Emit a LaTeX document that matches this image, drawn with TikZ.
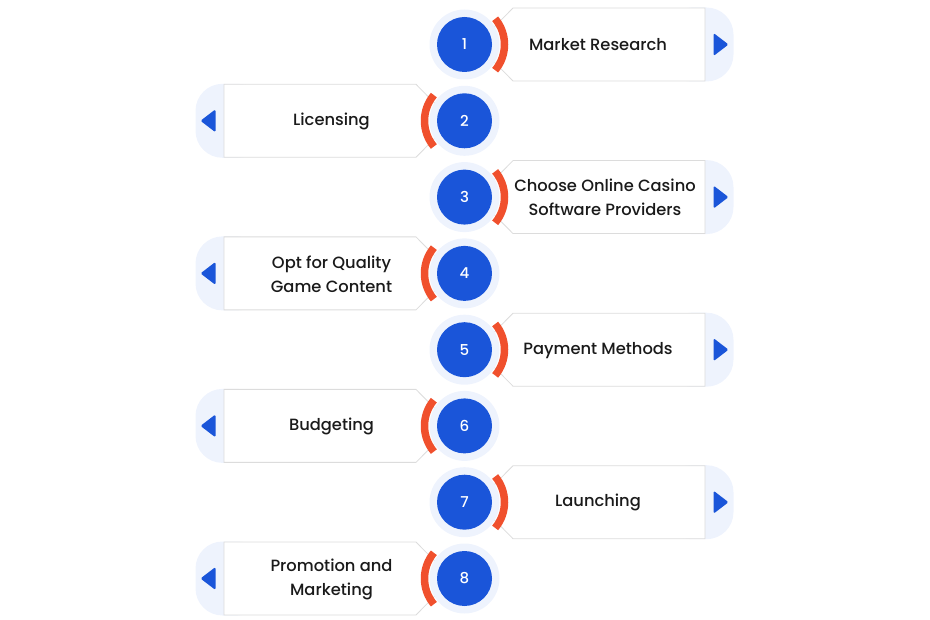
\documentclass[tikz,border=0pt]{standalone}
\usepackage{fontspec}
\setmainfont{Poppins}[UprightFont=* Medium]
\usepackage{tikz}
\definecolor{stepblue}{HTML}{1A55D9}
\definecolor{steporange}{HTML}{F0502D}
\definecolor{stephalo}{HTML}{EEF3FD}
\definecolor{stepline}{HTML}{DCDCDC}
\definecolor{steptext}{HTML}{1A1A1A}
\tikzset{
	steplabel/.style={text=steptext, font=\fontsize{16.3}{24}\selectfont, align=center},
	stepnum/.style={circle, fill=stepblue, minimum size=55pt, inner sep=0pt, text=white, font=\fontsize{15}{15}\selectfont},
}
\def\steprow(#1:#2:#3)#4#5{%
	\begin{scope}[shift={(464.5,#1)}, xscale=#2]
		\fill[stephalo, rounded corners=27pt] (200,-37) -- (269,-37) -- (269,37) -- (200,37) -- cycle;
		\draw[stepline, line width=0.8pt, fill=white] (12.5,0) -- (48.5,-36.5) -- (240.5,-36.5) -- (240.5,36.5) -- (48.5,36.5) -- cycle;
		\fill[stepblue, rounded corners=1.5pt] (249,-11.5) -- (264,0) -- (249,11.5) -- cycle;
		\fill[stephalo] (0,0) circle (35);
		\draw[steporange, line width=7.5pt] (-40:40) arc (-40:40:40);
		\node[stepnum] (num#4) at (0,0) {#4};
		\node[steplabel] (step#4) at (#3,0.5) {#5};
	\end{scope}}

\begin{document}
\begin{tikzpicture}[x=1pt, y=-1pt]
		%%%%% START %%%%%
		
		\useasboundingbox (0,0) rectangle (930,620);
		
		\steprow(44.5:1:133.5){1}{Market Research}
		\steprow(120.8:-1:133){2}{Licensing}
		\steprow(197.1:1:140.5){3}{Choose Online Casino\\Software Providers}
		\steprow(273.4:-1:133){4}{Opt for Quality\\Game Content}
		\steprow(349.7:1:133.5){5}{Payment Methods}
		\steprow(425.9:-1:133){6}{Budgeting}
		\steprow(502.2:1:133.5){7}{Launching}
		\steprow(578.5:-1:133){8}{Promotion and\\Marketing}
		
		%%%%% END %%%%%
\end{tikzpicture}
\end{document}
